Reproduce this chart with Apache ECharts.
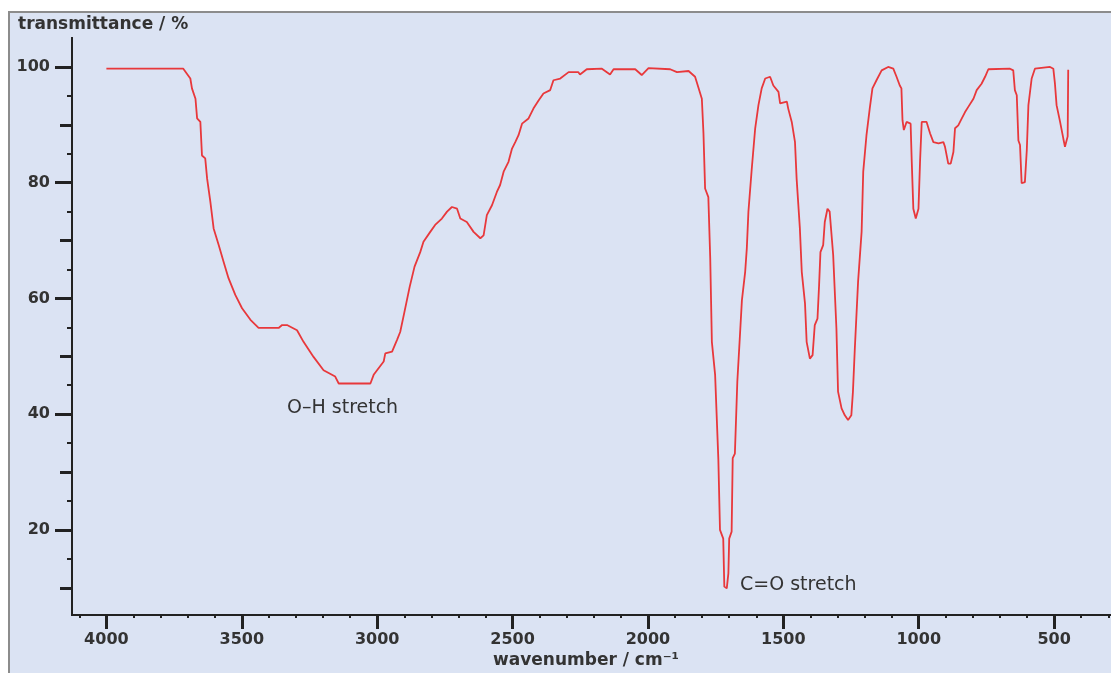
<!DOCTYPE html>
<html>
<head>
<meta charset="utf-8">
<script src="https://cdn.jsdelivr.net/npm/echarts@6/dist/echarts.min.js"></script>
<style>
  html, body { margin: 0; padding: 0; background: #ffffff; }
  #wrap { position: relative; width: 1111px; height: 673px; overflow: hidden; }
  #panel { position: absolute; left: 8px; top: 11px; width: 1110px; height: 660px;
           background: #dbe3f3; border-left: 2px solid #8c8c8c; border-top: 2px solid #8c8c8c;
           border-bottom: 2px solid #8c8c8c; }
  #chart { position: absolute; left: 0; top: 0; width: 1111px; height: 673px; }
</style>
</head>
<body>
<div id="wrap"><div id="panel"></div><div id="chart"></div></div>
<script>
// ---- data ----
const wavenumber = [
  4000, 3716, 3690, 3684, 3671, 3665, 3653, 3647, 3635, 3628, 3616, 3604, 3585, 3567, 3549, 3524,
  3499, 3468, 3438, 3364, 3351, 3333, 3296, 3272, 3235, 3198, 3155, 3142, 3025, 3013, 2976, 2970,
  2945, 2927, 2915, 2900, 2880, 2862, 2841, 2829, 2804, 2786, 2761, 2742, 2724, 2705, 2693, 2669,
  2644, 2619, 2607, 2595, 2576, 2558, 2546, 2533, 2515, 2502, 2490, 2478, 2465, 2441, 2423, 2404,
  2386, 2361, 2349, 2324, 2293, 2257, 2251, 2226, 2170, 2140, 2127, 2047, 2023, 1998, 1918, 1893,
  1850, 1826, 1814, 1801, 1795, 1789, 1777, 1770, 1764, 1752, 1740, 1734, 1722, 1718, 1709, 1703,
  1700, 1691, 1687, 1679, 1670, 1662, 1653, 1641, 1635, 1629, 1617, 1604, 1592, 1580, 1567, 1549,
  1537, 1518, 1512, 1487, 1482, 1469, 1457, 1451, 1439, 1432, 1420, 1414, 1402, 1392, 1384, 1374,
  1368, 1363, 1353, 1347, 1337, 1329, 1316, 1304, 1298, 1285, 1273, 1261, 1249, 1243, 1236, 1224,
  1211, 1205, 1193, 1181, 1171, 1156, 1137, 1113, 1094, 1082, 1070, 1064, 1060, 1055, 1045, 1030,
  1026, 1020, 1011, 1001, 995, 989, 971, 958, 946, 927, 909, 903, 891, 882, 872, 866,
  854, 841, 829, 817, 798, 786, 768, 755, 743, 663, 651, 645, 638, 632, 626, 620,
  608, 601, 595, 583, 571, 515, 503, 497, 491, 478, 472, 466, 460, 454, 450, 448
];
const transmittance = [
  99.7, 99.7, 98.0, 96.3, 94.5, 91.1, 90.5, 84.7, 84.2, 80.7, 76.7, 72.1, 69.2, 66.3, 63.5, 60.6,
  58.3, 56.3, 54.9, 54.9, 55.4, 55.4, 54.5, 52.5, 49.9, 47.6, 46.5, 45.3, 45.3, 46.8, 49.1, 50.5,
  50.8, 52.8, 54.2, 57.5, 62.0, 65.5, 68.0, 69.8, 71.5, 72.7, 73.8, 75.0, 75.8, 75.5, 73.8, 73.2,
  71.5, 70.4, 70.9, 74.4, 76.1, 78.4, 79.6, 81.9, 83.6, 85.9, 87.0, 88.2, 90.2, 91.1, 92.8, 94.2,
  95.4, 96.0, 97.7, 98.0, 99.1, 99.1, 98.7, 99.6, 99.7, 98.7, 99.6, 99.6, 98.6, 99.8, 99.6, 99.1,
  99.3, 98.3, 96.5, 94.5, 88.5, 79.0, 77.5, 66.9, 52.5, 46.8, 32.1, 20.0, 18.5, 10.2, 9.9, 12.5,
  18.5, 19.7, 32.4, 33.2, 45.6, 52.2, 59.7, 64.6, 68.6, 75.0, 82.2, 89.4, 93.4, 96.3, 98.0, 98.3,
  96.8, 95.7, 93.7, 94.0, 92.8, 90.5, 87.0, 80.7, 72.1, 64.6, 59.1, 52.5, 49.6, 50.2, 55.4, 56.5,
  62.3, 68.0, 69.2, 73.2, 75.5, 75.0, 67.5, 54.8, 43.9, 41.0, 39.8, 39.0, 39.8, 43.9, 51.4, 62.9,
  71.5, 81.9, 88.2, 92.8, 96.3, 97.7, 99.4, 100.0, 99.7, 98.3, 96.8, 96.3, 90.8, 89.1, 90.5, 90.2,
  83.9, 75.5, 73.8, 75.5, 83.9, 90.5, 90.5, 88.5, 87.0, 86.8, 87.0, 86.2, 83.3, 83.3, 85.3, 89.4,
  89.9, 91.1, 92.2, 93.1, 94.5, 96.0, 97.1, 98.3, 99.6, 99.7, 99.4, 96.0, 95.1, 87.3, 86.5, 79.9,
  80.1, 85.6, 93.4, 98.0, 99.7, 100.0, 99.7, 97.1, 93.4, 90.5, 90.2, 87.6, 86.2, 86.0, 88.0, 99.5
];
const xMajorTicks = [4000, 3500, 3000, 2500, 2000, 1500, 1000, 500];
const xMinorTicks = [4100, 3900, 3800, 3700, 3600, 3400, 3300, 3200, 3100, 2900, 2800, 2700, 2600,
  2400, 2300, 2200, 2100, 1900, 1800, 1700, 1600, 1400, 1300, 1200, 1100, 900, 800, 700, 600, 400, 300];
const yMajorTicks = [20, 40, 60, 80, 100];
const yMidTicks = [10, 30, 50, 70, 90];
const yMinorTicks = [15, 25, 35, 45, 55, 65, 75, 85, 95];
const yTitle = 'transmittance / %';
const xTitle = 'wavenumber / cm\u207B\u00B9';
const annotations = [
  { text: 'O\u2013H stretch', wn: 3333, t: 41.0 },
  { text: 'C=O stretch', wn: 1660, t: 10.5 }
];

// ---- chart ----
const FONT = 'DejaVu Sans';
const XMIN = 290, XMAX = 4127, YMIN = 5.3, YMAX = 105;
const chart = echarts.init(document.getElementById('chart'), null, { renderer: 'canvas' });
const axisLine = { show: true, lineStyle: { color: '#222', width: 2 } };
const labelStyle = { color: '#333', fontFamily: FONT, fontSize: 16, fontWeight: 'bold' };

function xAx(ticks, len, width, labels) {
  return {
    type: 'value', inverse: true, min: XMIN, max: XMAX, position: 'bottom',
    axisLine: axisLine, splitLine: { show: false },
    axisTick: { show: true, customValues: ticks, length: len, inside: false,
                lineStyle: { color: '#222', width: width } },
    axisLabel: labels ? Object.assign({ show: true, customValues: ticks, margin: 17,
                formatter: v => String(v) }, labelStyle) : { show: false }
  };
}
function yAx(ticks, len, width, labels) {
  return {
    type: 'value', min: YMIN, max: YMAX, position: 'left',
    axisLine: axisLine, splitLine: { show: false },
    axisTick: { show: true, customValues: ticks, length: len, inside: false,
                lineStyle: { color: '#222', width: width } },
    axisLabel: labels ? Object.assign({ show: true, customValues: ticks, margin: 22,
                formatter: v => String(v) }, labelStyle) : { show: false }
  };
}

const option = {
  backgroundColor: 'transparent',
  animation: false,
  grid: { left: 72, right: 0, top: 38, bottom: 58, containLabel: false },
  xAxis: [xAx(xMajorTicks, 14, 3, true), xAx(xMinorTicks, 3, 2, false)],
  yAxis: [yAx(yMajorTicks, 17, 3, true), yAx(yMidTicks, 12, 3, false), yAx(yMinorTicks, 5, 2, false)],
  series: [{
    type: 'line', xAxisIndex: 0, yAxisIndex: 0,
    data: wavenumber.map((w, i) => [w, transmittance[i]]),
    showSymbol: false, smooth: false,
    lineStyle: { color: '#e8383b', width: 1.8 }
  }],
  graphic: [
    { type: 'text', left: 18, top: 16,
      style: { text: yTitle, fill: '#333', font: 'bold 17px "' + FONT + '"' } },
    { type: 'text', left: 493, top: 652,
      style: { text: xTitle, fill: '#333', font: 'bold 17px "' + FONT + '"' } }
  ]
};
chart.setOption(option);

// annotations placed through the chart's own scales
const annGraphics = annotations.map(a => {
  const p = chart.convertToPixel({ xAxisIndex: 0, yAxisIndex: 0 }, [a.wn, a.t]);
  return { type: 'text', x: p[0], y: p[1],
    style: { text: a.text, fill: '#333', font: '19px "' + FONT + '"',
             textAlign: 'left', textVerticalAlign: 'middle' } };
});
chart.setOption({ graphic: option.graphic.concat(annGraphics) });
</script>
</body>
</html>
